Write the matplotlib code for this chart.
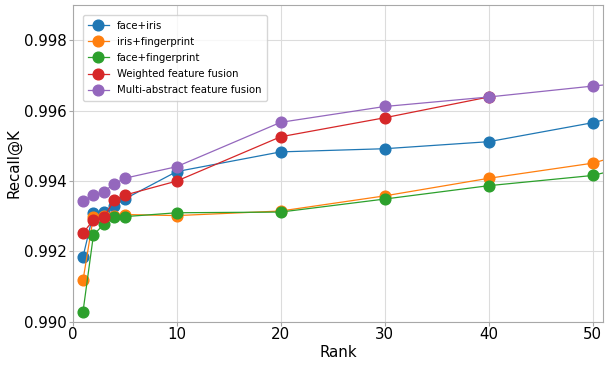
import numpy as np
import matplotlib
matplotlib.use("Agg")
import matplotlib.pyplot as plt

RANKS = [1, 2, 3, 4, 5, 10, 20, 30, 40, 50, 60]
RANKS_RED = [1, 2, 3, 4, 5, 10, 20, 30, 40]

face_iris = [0.99185, 0.99309, 0.99313, 0.99330, 0.99349, 0.99427, 0.99483, 0.99492, 0.99512, 0.99566, 0.99641]
iris_finger = [0.99118, 0.99299, 0.99300, 0.99301, 0.99305, 0.99302, 0.99315, 0.99358, 0.99408, 0.99451, 0.99535]
face_finger = [0.99029, 0.99246, 0.99278, 0.99299, 0.99299, 0.99310, 0.99312, 0.99349, 0.99387, 0.99416, 0.99488]
weighted = [0.99252, 0.99290, 0.99297, 0.99346, 0.99360, 0.99400, 0.99526, 0.99580, 0.99639]
multi = [0.99344, 0.99360, 0.99370, 0.99392, 0.99408, 0.99441, 0.99567, 0.99612, 0.99639, 0.99670, 0.99700]

LABELS = ["face+iris", "iris+fingerprint", "face+fingerprint",
          "Weighted feature fusion", "Multi-abstract feature fusion"]

fig, ax = plt.subplots(figsize=(6.05, 3.67), dpi=100)
series = [(RANKS, face_iris), (RANKS, iris_finger), (RANKS, face_finger),
          (RANKS_RED, weighted), (RANKS, multi)]
for i, ((x, y), lab) in enumerate(zip(series, LABELS)):
    ax.plot(x, y, "-o", color=f"C{i}", lw=0.9, ms=7.7, label=lab)

ax.set_xlim(0, 51)
ax.set_ylim(0.990, 0.999)
ax.set_yticks([0.990, 0.992, 0.994, 0.996, 0.998])
ax.set_xticks([0, 10, 20, 30, 40, 50])
ax.yaxis.set_major_formatter(matplotlib.ticker.FormatStrFormatter("%.3f"))
ax.grid(True, color="#dcdcdc", lw=0.8)
ax.set_axisbelow(True)
for s in ax.spines.values():
    s.set_color("#a8a8a8")
ax.tick_params(labelsize=10.8, color="#a8a8a8", length=3, pad=1)
ax.set_xlabel("Rank", fontsize=10.8, labelpad=2)
ax.set_ylabel("Recall@K", fontsize=10.8, labelpad=2)
ax.legend(loc="upper left", fontsize=7.3, frameon=True, borderpad=0.55,
          handlelength=2.0, labelspacing=0.6, borderaxespad=1.0)
fig.subplots_adjust(left=0.12, right=0.997, top=0.986, bottom=0.123)
fig.savefig("out.png", dpi=100)
